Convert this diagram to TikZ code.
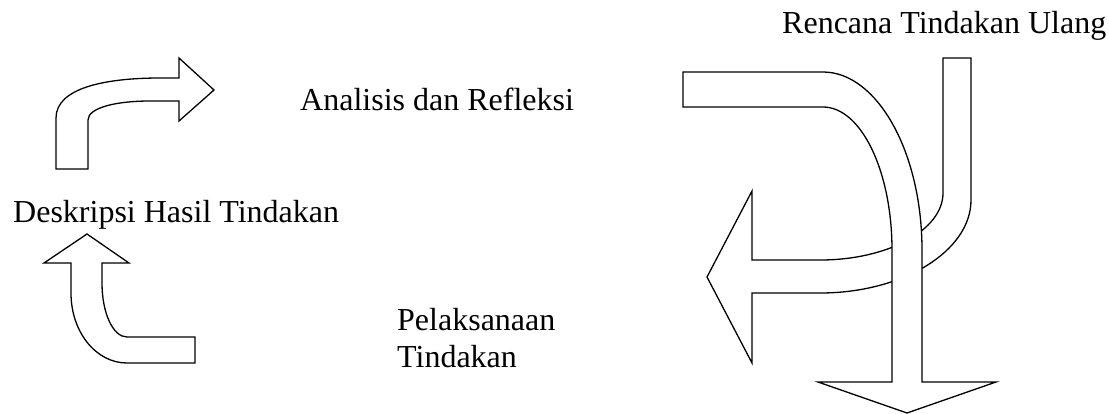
\documentclass[tikz,border=0pt]{standalone}
\usepackage{fontspec}
\setmainfont{Liberation Serif}
\begin{document}
\begin{tikzpicture}[x=1pt,y=-1pt,
  blockarrow/.style={draw=black,fill=white,line width=1.3pt,line join=miter},
  lbl/.style={anchor=base west,inner sep=0pt,font=\fontsize{32}{37}\selectfont}]
\useasboundingbox (0,0) rectangle (1109,413);
% top-left bent arrow
\draw[blockarrow] (56,169) -- (56,118) .. controls (56,88) and (105,78) .. (160,78)
  -- (179,78) -- (179,58) -- (214,90) -- (179,121) -- (179,101) -- (150,101)
  .. controls (115,101) and (88,108) .. (88,120) -- (88,169) -- cycle;
% bottom-left bent arrow
\draw[blockarrow] (87,234) -- (129,263) -- (102,263) -- (102,283)
  .. controls (102,313) and (113,337) .. (127,337) -- (195,337) -- (195,363) -- (127,363)
  .. controls (96,363) and (71,332) .. (71,293) -- (71,263) -- (44,263) -- cycle;
% right: arrow from top going down then left
\draw[blockarrow] (943,58) -- (971,58) -- (971,200)
  .. controls (971,251) and (903,293) .. (820,293) -- (752,293) -- (752,363)
  -- (707,277) -- (752,191) -- (752,260) -- (820,260)
  .. controls (888,260) and (943,230) .. (943,193) -- cycle;
% right: arrow from left going right then down
\draw[blockarrow] (683,72) -- (823,72) .. controls (877,72) and (922,152) .. (922,250)
  -- (922,382) -- (996,382) -- (907,413) -- (818,382) -- (892,382) -- (892,250)
  .. controls (892,171) and (861,107) .. (823,107) -- (683,107) -- cycle;
% labels
\node[lbl] (rencana) at (782,33) {Rencana Tindakan Ulang};
\node[lbl] (analisis) at (300,110) {Analisis dan Refleksi};
\node[lbl] (deskripsi) at (13,222) {Deskripsi Hasil Tindakan};
\node[lbl] (pelaksanaan) at (397,330) {Pelaksanaan};
\node[lbl] (tindakan) at (397,367) {Tindakan};
\end{tikzpicture}
\end{document}
